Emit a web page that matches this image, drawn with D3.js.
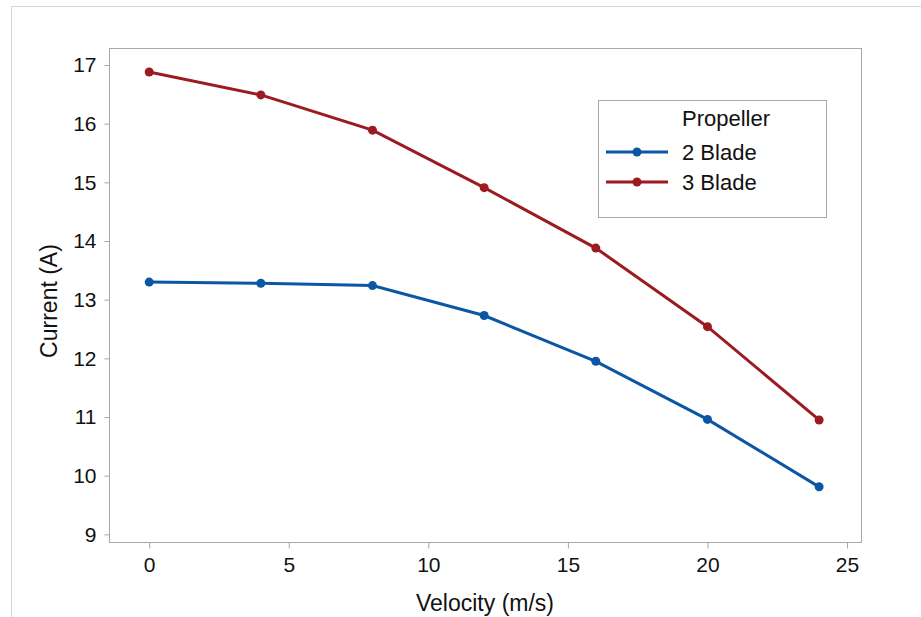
<!DOCTYPE html>
<html>
<head>
<meta charset="utf-8">
<script src="https://cdn.jsdelivr.net/npm/d3@7"></script>
<style>
  body { margin: 0; background: #fff; }
  text { font-family: "Liberation Sans", Arial, sans-serif; fill: #111; }
</style>
</head>
<body>
<div id="chart"></div>
<script>
// data
var velocity = [0, 4, 8, 12, 16, 20, 24];
var blade2 = [13.30, 13.28, 13.24, 12.73, 11.95, 10.96, 9.81];
var blade3 = [16.88, 16.49, 15.89, 14.91, 13.88, 12.54, 10.95];
var seriesNames = ["2 Blade", "3 Blade"];
var seriesColors = ["#0b57a4", "#9c1b20"];
var xTicks = [0, 5, 10, 15, 20, 25];
var yTicks = [9, 10, 11, 12, 13, 14, 15, 16, 17];

var W = 921, H = 617;
var margin = {top: 48, right: 60, bottom: 75, left: 109};
var width = 861 - margin.left;
var height = 542 - margin.top;

var svg = d3.select("#chart").append("svg")
    .attr("width", W)
    .attr("height", H);

// outer frame (top and left edges only)
svg.append("line").attr("x1", 11.5).attr("x2", W).attr("y1", 6.5).attr("y2", 6.5)
    .attr("stroke", "#d4d4d4");
svg.append("line").attr("x1", 11.5).attr("x2", 11.5).attr("y1", 6.5).attr("y2", H)
    .attr("stroke", "#d4d4d4");

var g = svg.append("g")
    .attr("transform", "translate(" + margin.left + "," + margin.top + ")");

var x = d3.scaleLinear().domain([-1.44, 25.5]).range([0, width]);
var y = d3.scaleLinear().domain([8.87, 17.29]).range([height, 0]);

// plot frame
g.append("rect")
    .attr("x", 0.5).attr("y", 0.5)
    .attr("width", width).attr("height", height)
    .attr("fill", "none").attr("stroke", "#a8a8a8");

var xAxis = d3.axisBottom(x).tickValues(xTicks).tickSize(6).tickPadding(9);
var yAxis = d3.axisLeft(y).tickValues(yTicks).tickSize(5).tickPadding(8);

g.append("g").attr("class", "x-axis")
    .attr("transform", "translate(0," + (height + 0.5) + ")")
    .call(xAxis);
g.append("g").attr("class", "y-axis")
    .attr("transform", "translate(0.5,0)")
    .call(yAxis);

g.selectAll(".domain").remove();
g.selectAll(".tick line").attr("stroke", "#a8a8a8");
g.selectAll(".tick text").style("font-size", "21px").attr("fill", "#111");

// axis titles
g.append("text")
    .attr("x", width / 2)
    .attr("y", height + 69)
    .attr("text-anchor", "middle")
    .style("font-size", "23px")
    .text("Velocity (m/s)");

g.append("text")
    .attr("transform", "translate(" + (-52) + "," + (height / 2 + 6) + ") rotate(-90)")
    .attr("text-anchor", "middle")
    .style("font-size", "23px")
    .text("Current (A)");

// lines and points
var series = [blade2, blade3];
var line = d3.line()
    .x(function(d, i) { return x(velocity[i]); })
    .y(function(d) { return y(d); });

series.forEach(function(s, k) {
    g.append("path")
        .datum(s)
        .attr("d", line)
        .attr("fill", "none")
        .attr("stroke", seriesColors[k])
        .attr("stroke-width", 3);
    g.selectAll(".pt" + k)
        .data(s)
        .enter().append("circle")
        .attr("class", "pt" + k)
        .attr("cx", function(d, i) { return x(velocity[i]); })
        .attr("cy", function(d) { return y(d); })
        .attr("r", 4.5)
        .attr("fill", seriesColors[k]);
});

// legend
var leg = svg.append("g").attr("transform", "translate(598,100)");
leg.append("rect")
    .attr("x", 0.5).attr("y", 0.5)
    .attr("width", 228).attr("height", 117)
    .attr("fill", "#fff").attr("stroke", "#a8a8a8");
leg.append("text")
    .attr("x", 84).attr("y", 26)
    .style("font-size", "22px")
    .text("Propeller");
seriesNames.forEach(function(name, k) {
    var yy = 52 + k * 30;
    leg.append("line")
        .attr("x1", 8).attr("x2", 70)
        .attr("y1", yy).attr("y2", yy)
        .attr("stroke", seriesColors[k]).attr("stroke-width", 3);
    leg.append("circle")
        .attr("cx", 39).attr("cy", yy).attr("r", 4.5)
        .attr("fill", seriesColors[k]);
    leg.append("text")
        .attr("x", 84).attr("y", yy + 8)
        .style("font-size", "22px")
        .text(name);
});
</script>
</body>
</html>
